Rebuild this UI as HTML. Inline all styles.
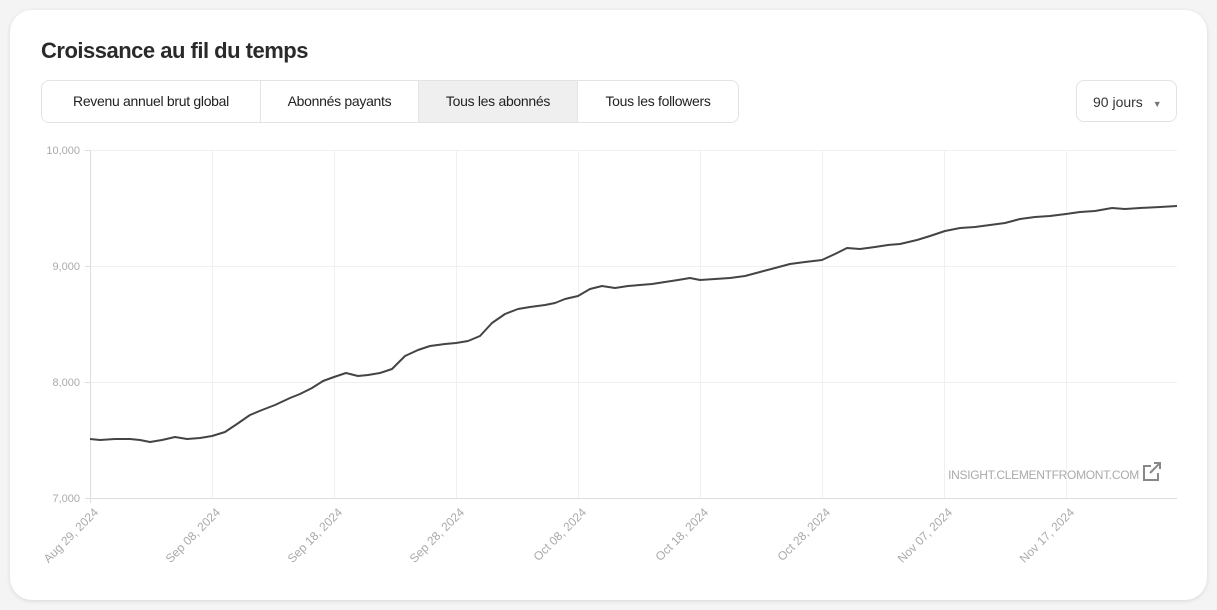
<!DOCTYPE html>
<html><head><meta charset="utf-8"><style>
html,body{margin:0;padding:0;width:1217px;height:610px;background:#f4f4f4;overflow:hidden;font-family:"Liberation Sans",sans-serif}
.card{position:absolute;left:10px;top:10px;width:1197px;height:590px;background:#fff;border-radius:22px;box-shadow:0 1px 4px rgba(0,0,0,.12)}
h1{position:absolute;left:41px;top:38px;margin:0;font-size:22px;font-weight:bold;color:#2a2a2a;letter-spacing:-0.5px}
.tabs{position:absolute;left:41px;top:80px;height:41px;border:1px solid #e3e3e3;border-radius:8px;display:flex;overflow:hidden}
.tabs div{height:41px;line-height:41px;font-size:14px;letter-spacing:-0.3px;color:#222;text-align:center;white-space:nowrap;border-right:1px solid #e3e3e3;box-sizing:border-box}
.tabs div:last-child{border-right:none}
.tabs .on{background:#efefef}
.dd{position:absolute;left:1076px;top:80px;width:101px;height:42px;border:1px solid #e3e3e3;border-radius:8px;font-size:14px;color:#333;line-height:42px;box-sizing:border-box;padding-left:16px}
</style></head><body>
<div class="card"></div>
<h1>Croissance au fil du temps</h1>
<div class="tabs"><div style="width:219px">Revenu annuel brut global</div><div style="width:158px">Abonnés payants</div><div class="on" style="width:159px">Tous les abonnés</div><div style="width:160px">Tous les followers</div></div>
<div class="dd">90 jours <span style="font-size:9px;color:#777;margin-left:6px">▼</span></div>
<svg width="1217" height="610" style="position:absolute;left:0;top:0" font-family="Liberation Sans, sans-serif">
<g stroke="#f0f0f0" stroke-width="1">
<line x1="90" y1="150.5" x2="1177" y2="150.5"/><line x1="90" y1="266.5" x2="1177" y2="266.5"/><line x1="90" y1="382.5" x2="1177" y2="382.5"/>
<line x1="212.5" y1="150" x2="212.5" y2="498"/><line x1="334.5" y1="150" x2="334.5" y2="498"/><line x1="456.5" y1="150" x2="456.5" y2="498"/><line x1="578.5" y1="150" x2="578.5" y2="498"/><line x1="700.5" y1="150" x2="700.5" y2="498"/><line x1="822.5" y1="150" x2="822.5" y2="498"/><line x1="944.5" y1="150" x2="944.5" y2="498"/><line x1="1066.5" y1="150" x2="1066.5" y2="498"/>
</g>
<g stroke="#ddd"><line x1="90.5" y1="150" x2="90.5" y2="503"/><line x1="85" y1="498.5" x2="1177" y2="498.5"/>
<line x1="85" y1="150.5" x2="90" y2="150.5"/><line x1="85" y1="266.5" x2="90" y2="266.5"/><line x1="85" y1="382.5" x2="90" y2="382.5"/></g>
<g fill="#aaa" font-size="11" text-anchor="end">
<text x="80" y="154">10,000</text><text x="80" y="270">9,000</text><text x="80" y="386">8,000</text><text x="80" y="502">7,000</text>
</g>
<g fill="#aaa" font-size="12" text-anchor="end">
<text transform="translate(99,513) rotate(-45)">Aug 29, 2024</text>
<text transform="translate(221,513) rotate(-45)">Sep 08, 2024</text>
<text transform="translate(343,513) rotate(-45)">Sep 18, 2024</text>
<text transform="translate(465,513) rotate(-45)">Sep 28, 2024</text>
<text transform="translate(587,513) rotate(-45)">Oct 08, 2024</text>
<text transform="translate(709,513) rotate(-45)">Oct 18, 2024</text>
<text transform="translate(831,513) rotate(-45)">Oct 28, 2024</text>
<text transform="translate(953,513) rotate(-45)">Nov 07, 2024</text>
<text transform="translate(1075,513) rotate(-45)">Nov 17, 2024</text>
</g>
<text x="1139" y="479" fill="#aaa" font-size="12" text-anchor="end" letter-spacing="-0.3">INSIGHT.CLEMENTFROMONT.COM</text>
<g fill="none" stroke="#888" stroke-width="2"><path d="M1151 466h-7v14h14v-7"/><path d="M1150 473l10-10M1154 463h6v6"/></g>
<polyline fill="none" stroke="#444" stroke-width="2" stroke-linejoin="round" points="90,439 100,440 115,439 130,439 140,440 150,442 162,440 175,437 187,439 200,438 212,436 225,432 237,424 250,415 262,410 275,405 290,398 300,394 312,388 323,381 334,377 346,373 358,376 368,375 380,373 392,369 405,356 418,350 430,346 445,344 456,343 468,341 480,336 492,323 505,314 518,309 530,307 545,305 555,303 565,299 578,296 590,289 602,286 615,288 628,286 640,285 652,284 665,282 678,280 690,278 700,280 715,279 730,278 745,276 760,272 775,268 790,264 805,262 822,260 835,254 847,248 860,249 875,247 888,245 900,244 917,240 930,236 945,231 960,228 975,227 990,225 1005,223 1020,219 1035,217 1050,216 1066,214 1080,212 1095,211 1112,208 1125,209 1140,208 1160,207 1177,206"/>
</svg>
</body></html>
